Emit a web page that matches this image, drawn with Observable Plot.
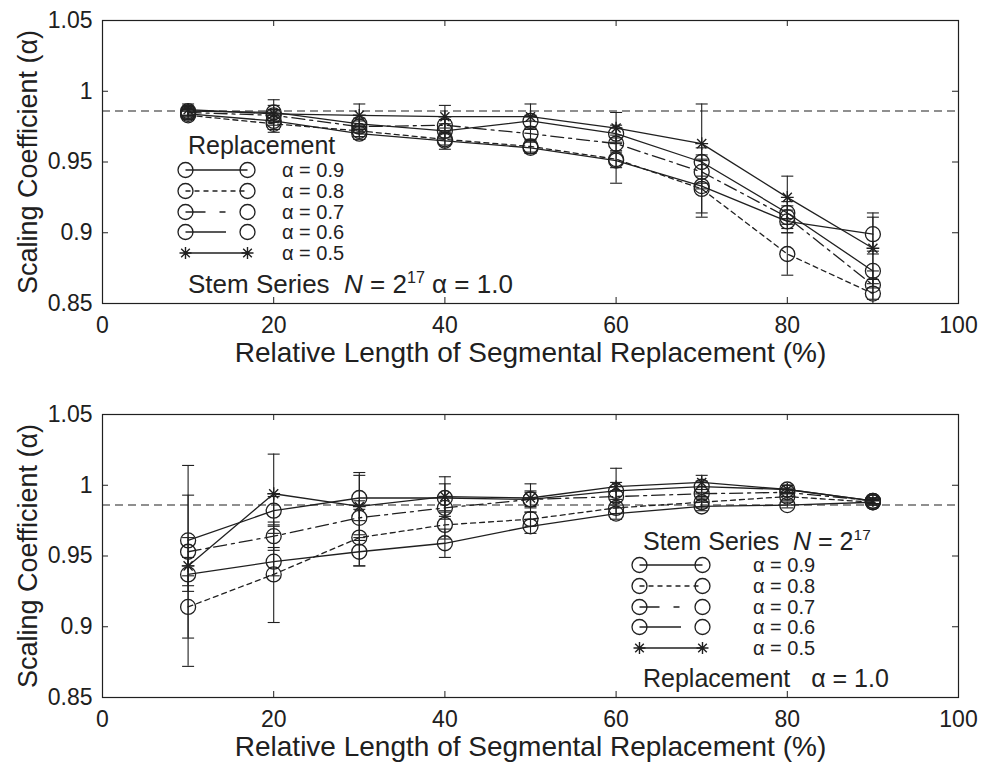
<!DOCTYPE html>
<html>
<head>
<meta charset="utf-8">
<script src="https://cdn.jsdelivr.net/npm/d3@7"></script>
<script src="https://cdn.jsdelivr.net/npm/@observablehq/plot@0.6"></script>
<style>
  body { margin: 0; background: #fff; font-family: "Liberation Sans", Arial, sans-serif; color: #222; }
  #wrap { position: relative; width: 982px; height: 769px; }
  .panel { position: relative; width: 982px; }
  .panel svg { display: block; }
  .lg { position: absolute; white-space: nowrap; line-height: 0.9; color: #222; }
  .lg sup { font-size: 0.62em; vertical-align: 0; position: relative; top: -0.62em; }
</style>
</head>
<body>
<div id="wrap"></div>
<script>
// Relative length of the replaced segment (% of series)
const lengths = [10, 20, 30, 40, 50, 60, 70, 80, 90];
const xTicks = [0, 20, 40, 60, 80, 100];
const xInnerTicks = [20, 40, 60, 80];
const yTicks = [0.85, 0.9, 0.95, 1, 1.05];
const yInnerTicks = [0.9, 0.95, 1];
const refAlpha = 0.986;   // scaling coefficient of the unaltered series
const seriesNames = ["0.9", "0.8", "0.7", "0.6", "0.5"];

// Panel A: stem series alpha = 1.0, replacement alpha varies
const a09 = [0.986, 0.985, 0.977, 0.972, 0.979, 0.970, 0.950, 0.914, 0.873];
const a08 = [0.983, 0.977, 0.972, 0.966, 0.961, 0.952, 0.931, 0.885, 0.857];
const a07 = [0.985, 0.983, 0.975, 0.976, 0.970, 0.963, 0.943, 0.911, 0.863];
const a06 = [0.984, 0.979, 0.970, 0.965, 0.960, 0.951, 0.933, 0.908, 0.899];
const a05 = [0.987, 0.984, 0.983, 0.982, 0.982, 0.974, 0.963, 0.925, 0.889];
const a09err = [0.003, 0.009, 0.004, 0.005, 0.004, 0.006, 0.010, 0.008, 0.012];
const a08err = [0.003, 0.004, 0.004, 0.004, 0.004, 0.006, 0.020, 0.015, 0.010];
const a07err = [0.003, 0.004, 0.004, 0.004, 0.004, 0.006, 0.012, 0.008, 0.010];
const a06err = [0.003, 0.008, 0.004, 0.006, 0.004, 0.016, 0.019, 0.008, 0.012];
const a05err = [0.004, 0.006, 0.008, 0.008, 0.009, 0.011, 0.028, 0.015, 0.025];

// Panel B: replacement alpha = 1.0, stem series alpha varies
const b09 = [0.961, 0.982, 0.991, 0.991, 0.990, 0.996, 0.999, 0.997, 0.989];
const b08 = [0.914, 0.937, 0.963, 0.972, 0.976, 0.984, 0.988, 0.992, 0.988];
const b07 = [0.953, 0.964, 0.977, 0.984, 0.990, 0.992, 0.994, 0.995, 0.989];
const b06 = [0.937, 0.946, 0.953, 0.959, 0.971, 0.980, 0.985, 0.986, 0.988];
const b05 = [0.943, 0.994, 0.985, 0.992, 0.991, 0.999, 1.002, 0.997, 0.989];
const b09err = [0.032, 0.010, 0.016, 0.010, 0.006, 0.006, 0.004, 0.003, 0.002];
const b08err = [0.022, 0.034, 0.020, 0.010, 0.005, 0.004, 0.004, 0.003, 0.002];
const b07err = [0.010, 0.010, 0.012, 0.008, 0.005, 0.004, 0.003, 0.003, 0.002];
const b06err = [0.012, 0.010, 0.010, 0.010, 0.005, 0.004, 0.003, 0.002, 0.002];
const b05err = [0.071, 0.028, 0.024, 0.014, 0.010, 0.013, 0.005, 0.003, 0.002];

const ink = "#202020";
const dashes = { "0.9": null, "0.8": "5,4", "0.7": "13,5,3,5", "0.6": null, "0.5": null };

function table(values, errors) {
  const rows = [];
  seriesNames.forEach((s, i) => {
    lengths.forEach((x, j) => rows.push({ series: s, x, y: values[i][j], err: errors[i][j] }));
  });
  return rows;
}

const panelA = table([a09, a08, a07, a06, a05], [a09err, a08err, a07err, a06err, a05err]);
const panelB = table([b09, b08, b07, b06, b05], [b09err, b08err, b07err, b06err, b05err]);

// horizontal bar used for error-bar caps
const capSymbol = {
  draw(context, size) {
    const w = Math.sqrt(size / Math.PI);
    context.moveTo(-w, 0);
    context.lineTo(w, 0);
  }
};

const W = 982, ML = 102, MR = 24, MT = 20, FRAME_H = 283;
const FRAME_W = W - ML - MR;

function panel(rows, height) {
  const marginBottom = height - MT - FRAME_H;
  const lineMarks = seriesNames.map(s => Plot.line(rows.filter(d => d.series === s), {
    x: "x", y: "y", stroke: ink, strokeWidth: 1.3,
    strokeDasharray: dashes[s] || undefined
  }));
  const circles = rows.filter(d => d.series !== "0.5");
  const stars = rows.filter(d => d.series === "0.5");
  return Plot.plot({
    width: W, height,
    marginLeft: ML, marginRight: MR, marginTop: MT, marginBottom,
    style: { fontFamily: "'Liberation Sans', Arial, sans-serif", fontSize: "22px", color: ink, background: "transparent" },
    x: { domain: [0, 100] },
    y: { domain: [0.85, 1.05] },
    marks: [
      Plot.ruleY([refAlpha], { stroke: ink, strokeWidth: 1.1, strokeDasharray: "8,5" }),
      ...lineMarks,
      Plot.ruleX(rows, { x: "x", y1: d => d.y - d.err, y2: d => d.y + d.err, stroke: ink, strokeWidth: 1.1, clip: true }),
      Plot.dot(rows, { x: "x", y: d => d.y - d.err, symbol: capSymbol, r: 6, stroke: ink, fill: "none", strokeWidth: 1.1, clip: true }),
      Plot.dot(rows, { x: "x", y: d => d.y + d.err, symbol: capSymbol, r: 6, stroke: ink, fill: "none", strokeWidth: 1.1 }),
      Plot.dot(circles, { x: "x", y: "y", r: 7.5, stroke: ink, fill: "none", strokeWidth: 1.3 }),
      Plot.dot(stars, { x: "x", y: "y", symbol: "plus", r: 4.2, stroke: ink, strokeWidth: 1.4 }),
      Plot.dot(stars, { x: "x", y: "y", symbol: "times", r: 4.2, stroke: ink, strokeWidth: 1.4 }),
      // inward ticks on all four sides
      Plot.tickX(xInnerTicks, { x: d => d, insetTop: FRAME_H - 6, stroke: ink }),
      Plot.tickX(xInnerTicks, { x: d => d, insetBottom: FRAME_H - 6, stroke: ink }),
      Plot.tickY(yInnerTicks, { y: d => d, insetRight: FRAME_W - 6, stroke: ink }),
      Plot.tickY(yInnerTicks, { y: d => d, insetLeft: FRAME_W - 6, stroke: ink }),
      Plot.frame({ stroke: ink, strokeWidth: 1.2 }),
      Plot.axisX(xTicks, { anchor: "bottom", tickSize: 0, tickPadding: 13, label: null, fontSize: 23 }),
      Plot.axisY(yTicks, { anchor: "left", tickSize: 0, tickPadding: 10, label: null, fontSize: 23,
        tickFormat: d => String(+d.toFixed(2)) }),
      Plot.text(["Relative Length of Segmental Replacement (%)"], {
        text: d => d, frameAnchor: "bottom", dy: 58, fontSize: 28, fill: ink
      }),
      Plot.text(["Scaling Coefficient (\u03b1)"], {
        text: d => d, frameAnchor: "left", textAnchor: "middle", dx: -74, rotate: -90, fontSize: 27, fill: ink
      })
    ]
  });
}

// legend sample: a short line with its two markers
function sample(series, width, lineEnd) {
  const h = 20, r = 7.5, x0 = r + 1, x1 = width - r - 1, cy = h / 2;
  const svg = d3.create("svg").attr("width", width).attr("height", h).style("display", "block");
  svg.append("line").attr("x1", x0).attr("x2", lineEnd != null ? lineEnd : x1).attr("y1", cy).attr("y2", cy)
    .attr("stroke", ink).attr("stroke-width", 1.3)
    .attr("stroke-dasharray", series === "0.8" ? "5,4" : series === "0.7" ? "20,14,6,40" : null);
  for (const x of [x0, x1]) {
    if (series === "0.5") {
      const a = 6;
      svg.append("path").attr("d", `M${x - a},${cy}H${x + a}M${x},${cy - a}V${cy + a}M${x - 4.3},${cy - 4.3}L${x + 4.3},${cy + 4.3}M${x - 4.3},${cy + 4.3}L${x + 4.3},${cy - 4.3}`)
        .attr("stroke", ink).attr("stroke-width", 1.4);
    } else {
      svg.append("circle").attr("cx", x).attr("cy", cy).attr("r", r).attr("fill", "none")
        .attr("stroke", ink).attr("stroke-width", 1.3);
    }
  }
  return svg.node();
}

function addText(host, html, left, cy, size) {
  const el = document.createElement("div");
  el.className = "lg";
  el.innerHTML = html;
  el.style.left = left + "px";
  el.style.top = (cy - size * 0.45) + "px";
  el.style.fontSize = size + "px";
  host.appendChild(el);
  return el;
}

function addLegend(host, cfg) {
  addText(host, cfg.header, cfg.headerX, cfg.headerY, cfg.headerSize);
  seriesNames.forEach((s, i) => {
    const cy = cfg.rowY0 + i * cfg.rowStep;
    const holder = document.createElement("div");
    holder.className = "lg";
    holder.style.left = (cfg.sampleX - 8.5) + "px";
    holder.style.top = (cy - 10) + "px";
    holder.appendChild(sample(s, cfg.sampleW, s === "0.6" ? cfg.sampleW - 30 : null));
    host.appendChild(holder);
    addText(host, "\u03b1 = " + s, cfg.labelX, cy, cfg.labelSize);
  });
  addText(host, cfg.footer, cfg.footerX, cfg.footerY, cfg.footerSize);
}

const wrap = document.getElementById("wrap");

const upperPanel = document.createElement("div");
upperPanel.className = "panel";
upperPanel.appendChild(panel(panelA, 394));
wrap.appendChild(upperPanel);
addLegend(upperPanel, {
  header: "Replacement", headerX: 188, headerY: 145, headerSize: 25,
  rowY0: 170, rowStep: 20.75, sampleX: 185, sampleW: 79, labelX: 282, labelSize: 20,
  footer: "Stem Series&nbsp;&nbsp;<i>N</i> = 2<sup>17</sup> \u03b1 = 1.0", footerX: 188, footerY: 285, footerSize: 26
});

const lowerPanel = document.createElement("div");
lowerPanel.className = "panel";
lowerPanel.appendChild(panel(panelB, 375));
wrap.appendChild(lowerPanel);
addLegend(lowerPanel, {
  header: "Stem Series&nbsp;&nbsp;<i>N</i> = 2<sup>17</sup>", headerX: 643, headerY: 147, headerSize: 25,
  rowY0: 171, rowStep: 20.75, sampleX: 639, sampleW: 80, labelX: 753, labelSize: 20,
  footer: "Replacement&nbsp;&nbsp;&nbsp;\u03b1 = 1.0", footerX: 643, footerY: 284, footerSize: 25
});
</script>
</body>
</html>
